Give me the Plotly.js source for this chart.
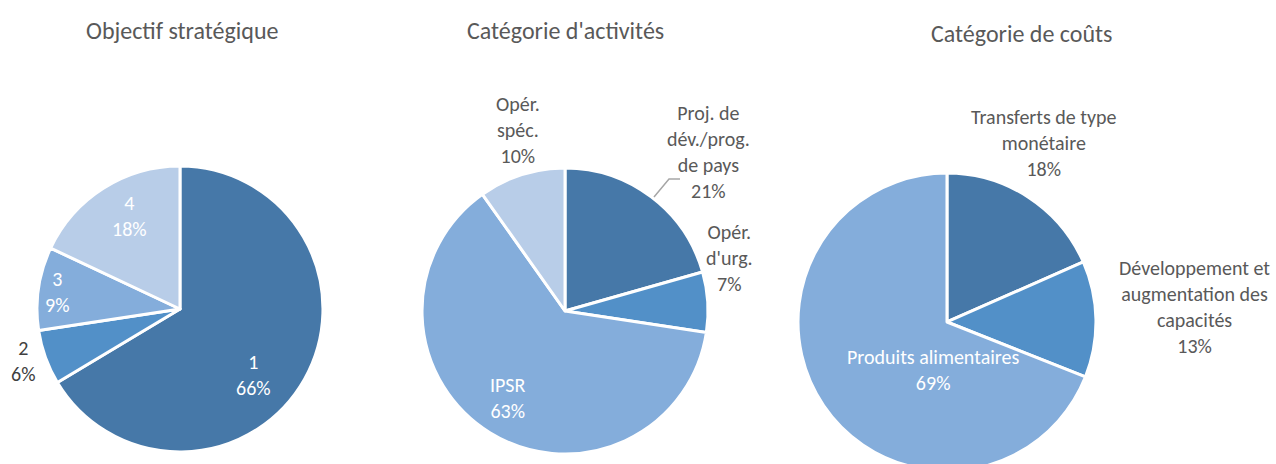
<!DOCTYPE html>
<html>
<head>
<meta charset="utf-8">
<script src="https://cdn.plot.ly/plotly-3.0.1.min.js"></script>
<style>
  html, body { margin: 0; padding: 0; overflow: hidden; background: #fff; }
  #chart { width: 1276px; height: 480px; }
</style>
</head>
<body>
<div id="chart"></div>
<script>
// Objectif stratégique
const objLabels = [ '1', '2', '3', '4' ];
const objValues = [ 66.4, 6.2, 9.4, 18.0 ];

// Catégorie d'activités
const actLabels = [ 'Proj. de<br>dév./prog.<br>de pays', 'Opér.<br>d\'urg.', 'IPSR', 'Opér.<br>spéc.' ];
const actValues = [ 20.6, 6.8, 62.8, 9.8 ];

// Catégorie de coûts
const coutLabels = [ 'Transferts de type<br>monétaire', 'Développement et<br>augmentation des<br>capacités', 'Produits alimentaires' ];
const coutValues = [ 18.4, 12.6, 69.0 ];

const titles = [ 'Objectif stratégique', 'Catégorie d\'activités', 'Catégorie de coûts' ];

const W = 1276, H = 480;
const FONT = 'Carlito, Calibri, Lato, sans-serif';
const blues = [ '#4678a8', '#5290c8', '#84addb', '#b8cde8' ];

// label placement (pixel centres), like Excel's "best fit"
const pies = [
    {
        labels: objLabels, values: objValues, colors: blues,
        domain: { x: [ 0.0290, 0.2531 ], y: [ 0.0583, 0.6542 ] },
        pos: [ [ 253, 375 ], [ 23, 361 ], [ 57, 292 ], [ 129, 216 ] ],
        inside: [ true, false, true, true ],
        outColor: '#404040'
    },
    {
        labels: actLabels, values: actValues, colors: blues,
        domain: { x: [ 0.3307, 0.5549 ], y: [ 0.0542, 0.6500 ] },
        pos: [ [ 708, 152 ], [ 729, 258 ], [ 508, 398 ], [ 518, 130 ] ],
        inside: [ false, false, true, false ],
        outColor: '#595959'
    },
    {
        labels: coutLabels, values: coutValues, colors: blues.slice( 0, 3 ),
        domain: { x: [ 0.6254, 0.8589 ], y: [ 0.0188, 0.6396 ] },
        pos: [ [ 1044, 143 ], [ 1194, 307 ], [ 933, 370 ] ],
        inside: [ false, false, true ],
        outColor: '#595959'
    }
];

const data = pies.map( p => ( {
    type: 'pie',
    labels: p.labels,
    values: p.values,
    sort: false,
    direction: 'clockwise',
    rotation: 0,
    domain: p.domain,
    marker: { colors: p.colors, line: { color: '#ffffff', width: 3 } },
    textinfo: 'none',
    hoverinfo: 'label+percent',
    showlegend: false
} ) );

const annotations = [];

pies.forEach( p => {

    const total = p.values.reduce( ( a, b ) => a + b, 0 );

    p.labels.forEach( ( lab, i ) => {

        annotations.push( {
            text: lab + '<br>' + Math.round( 100 * p.values[ i ] / total ) + '%',
            xref: 'paper', yref: 'paper',
            x: p.pos[ i ][ 0 ] / W, y: 1 - p.pos[ i ][ 1 ] / H,
            xanchor: 'center', yanchor: 'middle',
            showarrow: false,
            font: { family: FONT, size: 20, color: p.inside[ i ] ? '#ffffff' : p.outColor }
        } );

    } );

} );

const titleX = [ 182, 565, 1021 ];
const titleY = [ 30, 30, 34 ];

titles.forEach( ( t, i ) => {

    annotations.push( {
        text: t,
        xref: 'paper', yref: 'paper',
        x: titleX[ i ] / W, y: 1 - titleY[ i ] / H,
        xanchor: 'center', yanchor: 'middle',
        showarrow: false,
        font: { family: FONT, size: 24, color: '#595959' }
    } );

} );

const layout = {
    width: W,
    height: H,
    margin: { l: 0, r: 0, t: 0, b: 0 },
    paper_bgcolor: '#ffffff',
    font: { family: FONT, color: '#595959' },
    annotations: annotations,
    shapes: [ {
        // leader line for the 21% label
        type: 'path',
        xref: 'paper', yref: 'paper',
        path: 'M ' + ( 654 / W ) + ',' + ( 1 - 197 / H ) + ' L ' + ( 669 / W ) + ',' + ( 1 - 179 / H ) + ' L ' + ( 680 / W ) + ',' + ( 1 - 179 / H ),
        line: { color: '#a6a6a6', width: 1.5 }
    } ]
};

Plotly.newPlot( 'chart', data, layout, { displayModeBar: false, staticPlot: true } );
</script>
</body>
</html>
